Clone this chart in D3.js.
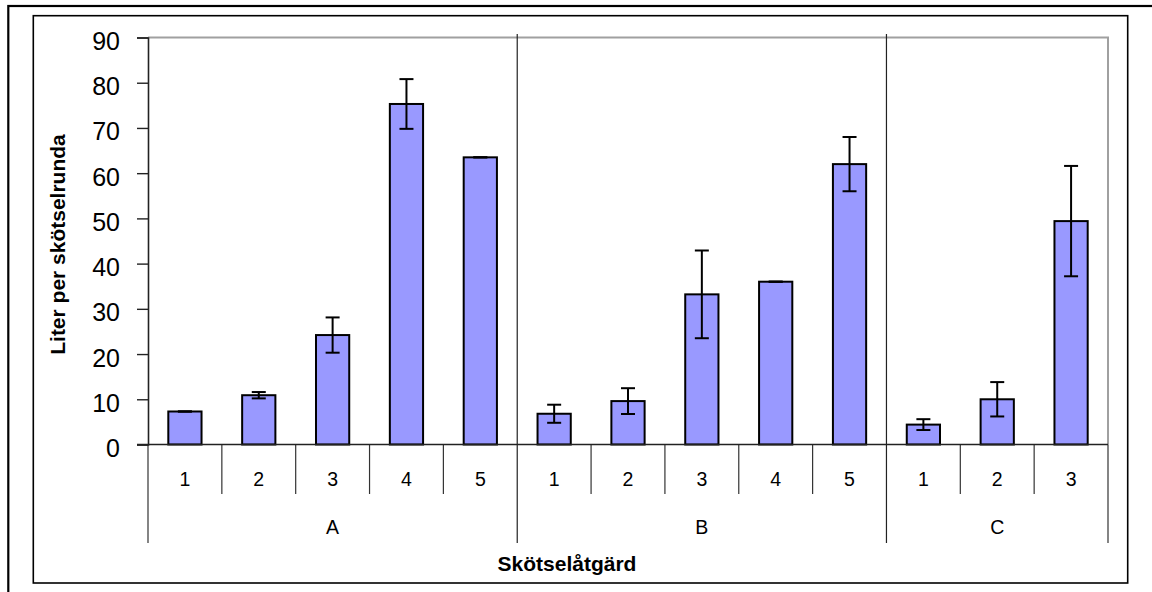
<!DOCTYPE html>
<html>
<head>
<meta charset="utf-8">
<script src="https://cdn.jsdelivr.net/npm/d3@7"></script>
<style>
  html, body { margin: 0; padding: 0; background: #fff; }
  svg { display: block; }
  text { font-family: "Liberation Sans", Arial, sans-serif; fill: #000; }
</style>
</head>
<body>
<svg id="chart" width="1152" height="592"></svg>
<script>
// ---- data ----
const groups = ["A", "B", "C"];
const groupSizes = [5, 5, 3];
const categories = ["1", "2", "3", "4", "5", "1", "2", "3", "4", "5", "1", "2", "3"];
const values = [7.3, 10.9, 24.2, 75.3, 63.5, 6.8, 9.6, 33.2, 36.0, 62.0, 4.4, 10.0, 49.4];
const errors = [0, 0.7, 3.9, 5.5, 0, 2.0, 2.85, 9.7, 0, 6.0, 1.2, 3.8, 12.2];
const yTicks = [0, 10, 20, 30, 40, 50, 60, 70, 80, 90];
const yTitle = "Liter per skötselrunda";
const xTitle = "Skötselåtgärd";

// ---- layout ----
const svg = d3.select("#chart");
const plot = { left: 148, right: 1108, top: 37.5, bottom: 444.5 };
const keys = categories.map((c, i) => i);
const x = d3.scaleBand().domain(keys).range([plot.left, plot.right]).paddingInner(0).paddingOuter(0);
const y = d3.scaleLinear().domain([0, 90]).range([plot.bottom, plot.top]);
const barW = x.bandwidth() * 0.45;

svg.append("rect").attr("width", 1152).attr("height", 592).attr("fill", "#fff");

// outer frame
svg.append("rect").attr("x", 8.3).attr("y", 6).attr("width", 1170).attr("height", 620)
  .attr("fill", "none").attr("stroke", "#000").attr("stroke-width", 2.2);
// chart area frame
svg.append("rect").attr("x", 33.3).attr("y", 15.7).attr("width", 1127.7 - 33.3).attr("height", 583 - 15.7)
  .attr("fill", "#fff").attr("stroke", "#000").attr("stroke-width", 1.6);

// plot area border (gray top/right)
svg.append("path")
  .attr("d", `M${plot.left},${plot.top}H${plot.right}V${plot.bottom}`)
  .attr("fill", "none").attr("stroke", "#a0a0a0").attr("stroke-width", 2);

// group boundaries
const groupEdges = [0];
groupSizes.forEach((s, i) => groupEdges.push(groupEdges[i] + s));
const edgeX = i => i < keys.length ? x(i) : plot.right;

// group dividers through the plot (internal)
groupEdges.slice(1, -1).forEach(e => {
  svg.append("line").attr("x1", edgeX(e)).attr("x2", edgeX(e))
    .attr("y1", 34).attr("y2", 543).attr("stroke", "#222").attr("stroke-width", 1.2);
});
// outer group edges below the axis
[groupEdges[0], groupEdges[groupEdges.length - 1]].forEach(e => {
  svg.append("line").attr("x1", edgeX(e)).attr("x2", edgeX(e))
    .attr("y1", plot.bottom).attr("y2", 543).attr("stroke", "#333").attr("stroke-width", 1.2);
});
// category dividers below axis
keys.forEach(i => {
  if (i === 0 || groupEdges.includes(i)) return;
  svg.append("line").attr("x1", x(i)).attr("x2", x(i))
    .attr("y1", plot.bottom).attr("y2", 494).attr("stroke", "#333").attr("stroke-width", 1.2);
});

// y axis
const yAxis = d3.axisLeft(y).tickValues(yTicks).tickSize(11).tickPadding(17);
const yg = svg.append("g").attr("transform", `translate(${plot.left},0)`).call(yAxis);
yg.select(".domain").attr("stroke", "#222").attr("stroke-width", 1.6);
yg.selectAll(".tick line").attr("stroke", "#222").attr("stroke-width", 1.4);
yg.selectAll(".tick text").attr("font-size", 25).attr("dy", "0.48em")
  .style("font-family", '"Liberation Sans", Arial, sans-serif').attr("fill", "#000");

// bars
svg.append("g").selectAll("rect").data(keys).join("rect")
  .attr("x", i => x(i) + (x.bandwidth() - barW) / 2)
  .attr("y", i => y(values[i]))
  .attr("width", barW)
  .attr("height", i => y(0) - y(values[i]))
  .attr("fill", "#9999ff").attr("stroke", "#000").attr("stroke-width", 2);

// x axis baseline
svg.append("line").attr("x1", plot.left - 11).attr("x2", plot.right)
  .attr("y1", plot.bottom).attr("y2", plot.bottom).attr("stroke", "#222").attr("stroke-width", 1.6);

// error bars
const capW = 14;
const eg = svg.append("g").attr("stroke", "#000").attr("stroke-width", 2).attr("fill", "none");
keys.forEach(i => {
  const cx = x(i) + x.bandwidth() / 2;
  const hi = y(values[i] + errors[i]), lo = y(values[i] - errors[i]);
  eg.append("line").attr("x1", cx).attr("x2", cx).attr("y1", hi).attr("y2", lo);
  eg.append("line").attr("x1", cx - capW / 2).attr("x2", cx + capW / 2).attr("y1", hi).attr("y2", hi);
  eg.append("line").attr("x1", cx - capW / 2).attr("x2", cx + capW / 2).attr("y1", lo).attr("y2", lo);
});

// category labels
svg.append("g").selectAll("text").data(keys).join("text")
  .attr("x", i => x(i) + x.bandwidth() / 2)
  .attr("y", 486)
  .attr("text-anchor", "middle").attr("font-size", 19.5)
  .text(i => categories[i]);

// group labels
svg.append("g").selectAll("text").data(groups).join("text")
  .attr("x", (g, gi) => (edgeX(groupEdges[gi]) + edgeX(groupEdges[gi + 1])) / 2)
  .attr("y", 534)
  .attr("text-anchor", "middle").attr("font-size", 19.5)
  .text(g => g);

// axis titles
svg.append("text").attr("x", 567).attr("y", 571).attr("text-anchor", "middle")
  .attr("font-size", 21).attr("font-weight", "bold").text(xTitle);
svg.append("text").attr("transform", "translate(64.5,244.5) rotate(-90)")
  .attr("text-anchor", "middle").attr("font-size", 21).attr("font-weight", "bold").text(yTitle);
</script>
</body>
</html>
